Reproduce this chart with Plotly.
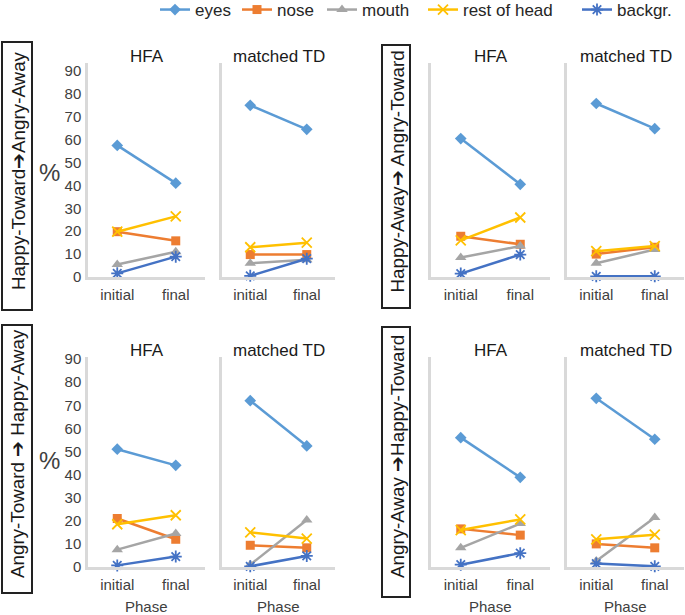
import plotly.graph_objects as go

# ---------------- data ----------------
phases = ["initial", "final"]
series_names = ["eyes", "nose", "mouth", "rest of head", "backgr."]
conditions = ["Happy-Toward➔Angry-Away", "Happy-Away➔ Angry-Toward",
              "Angry-Toward ➔ Happy-Away", "Angry-Away ➔Happy-Toward"]
groups = ["HFA", "matched TD"]

# each list: one [initial, final] pair per condition (TL, TR, BL, BR)
eyes_hfa = [[57.5, 41.0], [60.5, 40.5], [51.0, 44.0], [56.0, 38.8]]
eyes_td = [[75.0, 64.5], [75.8, 64.8], [72.0, 52.4], [73.0, 55.3]]
nose_hfa = [[19.8, 15.8], [17.8, 14.3], [21.0, 12.0], [16.5, 13.8]]
nose_td = [[9.8, 9.8], [10.0, 13.0], [9.4, 8.3], [10.0, 8.3]]
mouth_hfa = [[5.5, 11.0], [8.5, 13.5], [7.5, 14.5], [8.3, 18.8]]
mouth_td = [[6.0, 7.5], [6.0, 12.0], [1.0, 20.3], [2.6, 21.4]]
rest_hfa = [[19.8, 26.5], [16.0, 26.0], [18.5, 22.4], [16.0, 20.6]]
rest_td = [[13.0, 15.0], [11.3, 13.5], [15.0, 12.3], [12.0, 14.0]]
backgr_hfa = [[1.6, 8.9], [1.5, 9.8], [0.7, 4.5], [1.0, 6.0]]
backgr_td = [[0.5, 8.0], [0.3, 0.3], [0.3, 4.8], [1.5, 0.3]]
y_ticks = [0, 10, 20, 30, 40, 50, 60, 70, 80, 90]

# ---------------- styling ----------------
W, H = 685, 615
FONT = "Liberation Sans, Arial, sans-serif"
colors = ["#5B9BD5", "#ED7D31", "#A5A5A5", "#FFC000", "#4472C4"]
symbols = ["diamond", "square", "triangle-up", "x-thin-open", "asterisk-open"]
msizes = [9, 9, 10, 10, 10]
legend_x_px = [155, 237, 322, 423, 577]
data_by_group = {
    "HFA": [eyes_hfa, nose_hfa, mouth_hfa, rest_hfa, backgr_hfa],
    "matched TD": [eyes_td, nose_td, mouth_td, rest_td, backgr_td],
}

def px_x(x):
    return x / W

def px_y(y):
    return 1 - y / H

# panel pixel geometry: (x0, x1) per column, (y_bottom, y_top, range_top) per row
cols_px = {(0, "HFA"): (88, 205), (0, "matched TD"): (222, 335),
           (1, "HFA"): (431, 550), (1, "matched TD"): (567, 684)}
rows_px = [(277, 63, 93.5), (567, 357, 90.9)]
cond_pos = [(0, 0), (0, 1), (1, 0), (1, 1)]  # (row, col)

fig = go.Figure()
layout_axes = {}
annotations = []
shapes = []
ax_i = 0
for ci, cond in enumerate(conditions):
    row, col = cond_pos[ci]
    yb, yt, ytop = rows_px[row]
    for group in groups:
        ax_i += 1
        xa = "x" if ax_i == 1 else f"x{ax_i}"
        ya = "y" if ax_i == 1 else f"y{ax_i}"
        x0, x1 = cols_px[(col, group)]
        show_yticks = (col == 0 and group == "HFA")
        for si, name in enumerate(series_names):
            vals = data_by_group[group][si][ci]
            open_sym = symbols[si].endswith("open")
            fig.add_trace(go.Scatter(
                x=phases, y=vals, name=name, xaxis=xa, yaxis=ya,
                mode="lines+markers",
                line=dict(color=colors[si], width=2.5),
                marker=dict(symbol=symbols[si], size=msizes[si], color=colors[si],
                            line=dict(color=colors[si], width=1.8 if open_sym else 0)),
                showlegend=(ax_i == 1), cliponaxis=False,
                legend="legend" if si == 0 else f"legend{si + 1}",
                hoverinfo="skip",
            ))
        xkey = "xaxis" if ax_i == 1 else f"xaxis{ax_i}"
        ykey = "yaxis" if ax_i == 1 else f"yaxis{ax_i}"
        layout_axes[xkey] = dict(
            domain=[px_x(x0), px_x(x1)], anchor=ya, type="category",
            categoryorder="array", categoryarray=phases, range=[-0.5, 1.5],
            showline=True, linecolor="#D9D9D9", linewidth=2.5,
            showgrid=False, zeroline=False, ticks="",
            tickfont=dict(size=15, color="#404040", family=FONT),
            ticklabelstandoff=2,
        )
        layout_axes[ykey] = dict(
            domain=[px_y(yb), px_y(yt)], anchor=xa, range=[0, ytop],
            showline=True, linecolor="#D9D9D9", linewidth=2.5,
            showgrid=False, zeroline=False, ticks="",
            tickvals=y_ticks, showticklabels=show_yticks,
            tickfont=dict(size=15, color="#404040", family=FONT),
            ticklabelstandoff=1,
        )
        # panel title
        annotations.append(dict(
            text=group, x=px_x((x0 + x1) / 2), y=px_y(yt - 6),
            xref="paper", yref="paper", showarrow=False,
            font=dict(size=17, color="#1a1a1a", family=FONT),
            xanchor="center", yanchor="middle"))
        if row == 1:
            annotations.append(dict(
                text="Phase", x=px_x((x0 + x1) / 2), y=px_y(606),
                xref="paper", yref="paper", showarrow=False,
                font=dict(size=15, color="#404040", family=FONT),
                xanchor="center", yanchor="middle"))
    # "%" label for left column
    if col == 0:
        annotations.append(dict(
            text="%", x=px_x(50), y=px_y(172 if row == 0 else 460),
            xref="paper", yref="paper", showarrow=False,
            font=dict(size=24, color="#404040", family=FONT),
            xanchor="center", yanchor="middle"))

# condition boxes
boxes = [(2, 32, 42, 310), (382, 410, 45, 308), (2, 32, 325, 593), (382, 410, 327, 597)]
for ci, cond in enumerate(conditions):
    bx0, bx1, by0, by1 = boxes[ci]
    shapes.append(dict(type="rect", xref="paper", yref="paper",
                       x0=px_x(bx0), x1=px_x(bx1), y0=px_y(by1), y1=px_y(by0),
                       line=dict(color="#222222", width=2)))
    annotations.append(dict(
        text=cond, x=px_x((bx0 + bx1) / 2 + 1), y=px_y((by0 + by1) / 2 - 5),
        xref="paper", yref="paper", showarrow=False, textangle=-90,
        font=dict(size=18.8, color="#1a1a1a", family=FONT),
        xanchor="center", yanchor="middle"))

legends = {}
for si in range(len(series_names)):
    key = "legend" if si == 0 else f"legend{si + 1}"
    legends[key] = dict(
        orientation="h", x=px_x(legend_x_px[si]), y=px_y(10),
        xanchor="left", yanchor="middle",
        font=dict(size=17, color="#262626", family=FONT),
        bgcolor="rgba(0,0,0,0)", itemwidth=30)

fig.update_layout(
    width=W, height=H, margin=dict(l=0, r=0, t=0, b=0, autoexpand=False),
    paper_bgcolor="white", plot_bgcolor="white",
    font=dict(family=FONT),
    annotations=annotations, shapes=shapes,
    **legends,
    **layout_axes,
)

fig.write_html("out.html", config={"displayModeBar": False},
               post_script="document.body.style.margin='0';document.body.style.overflow='hidden';")
